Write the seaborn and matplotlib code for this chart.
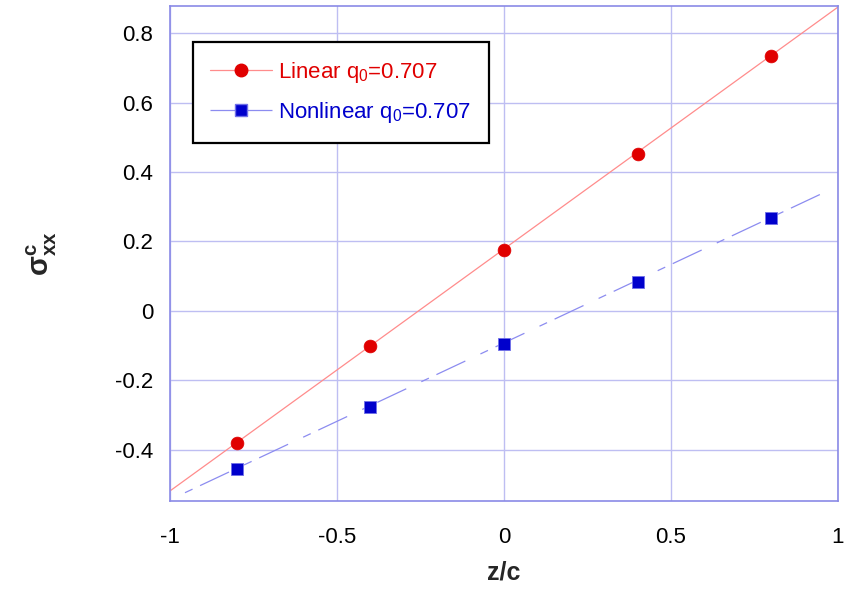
import numpy as np
import pandas as pd
import matplotlib
matplotlib.use("Agg")
import matplotlib.pyplot as plt
from matplotlib.lines import Line2D
import seaborn as sns

# ---- data ----
z = [-0.8, -0.4, 0.0, 0.4, 0.8]
linear_vals = [-0.381, -0.102, 0.174, 0.453, 0.735]
nonlinear_vals = [-0.456, -0.278, -0.096, 0.082, 0.268]
# trend lines (endpoints)
lin_fit_x = [-1.0, 1.0]
lin_fit_y = [-0.519, 0.875]
nl_fit_x = [-0.955, 0.957]
nl_fit_y = [-0.524, 0.340]
labels = ["Linear q$_0$=0.707", "Nonlinear q$_0$=0.707"]
xticks = [-1, -0.5, 0, 0.5, 1]
xticklabels = ["-1", "-0.5", "0", "0.5", "1"]
yticks = [-0.4, -0.2, 0, 0.2, 0.4, 0.6, 0.8]
yticklabels = ["-0.4", "-0.2", "0", "0.2", "0.4", "0.6", "0.8"]

sns.set_style("white")
plt.rcParams['font.family'] = ['Liberation Sans', 'DejaVu Sans']
plt.rcParams['mathtext.fontset'] = 'custom'
plt.rcParams['mathtext.rm'] = 'Liberation Sans'
plt.rcParams['mathtext.it'] = 'Liberation Sans'
plt.rcParams['mathtext.bf'] = 'Liberation Sans:bold'
plt.rcParams['lines.scale_dashes'] = False

RED_LINE = "#FF8C8C"
RED = "#E00000"
BLUE_LINE = "#8C8CF0"
BLUE = "#0000CC"
GRID = "#BEBEF2"
SPINE = "#8A8AE6"
NL_DASH = (0, (6, 6, 23, 12))

fig = plt.figure(figsize=(8.46, 5.90), dpi=100)
ax = fig.add_axes([0.2009, 0.1508, 0.7896, 0.8390])

df_pts = pd.DataFrame({"z": z, "lin": linear_vals, "nl": nonlinear_vals})
df_lf = pd.DataFrame({"x": lin_fit_x, "y": lin_fit_y})
df_nf = pd.DataFrame({"x": nl_fit_x, "y": nl_fit_y})

sns.lineplot(data=df_lf, x="x", y="y", ax=ax, color=RED_LINE, linewidth=0.9,
             estimator=None, sort=False)
sns.lineplot(data=df_nf, x="x", y="y", ax=ax, color=BLUE_LINE, linewidth=0.9,
             estimator=None, sort=False, linestyle=NL_DASH)
sns.scatterplot(data=df_pts, x="z", y="lin", ax=ax, marker="o", s=85,
                color=RED, edgecolor=RED, linewidth=0.5, zorder=5)
sns.scatterplot(data=df_pts, x="z", y="nl", ax=ax, marker="s", s=85,
                color=BLUE, edgecolor="#7070E8", linewidth=0.6, zorder=5)

ax.set_xlim(-1, 1)
ax.set_ylim(-0.548, 0.878)
ax.set_xticks(xticks)
ax.set_xticklabels(xticklabels)
ax.set_yticks(yticks)
ax.set_yticklabels(yticklabels)
ax.tick_params(axis='both', length=0, labelsize=16, colors='black')
ax.tick_params(axis='x', pad=19)
ax.tick_params(axis='y', pad=12)
ax.grid(True, color=GRID, linewidth=1.0)
ax.set_axisbelow(True)
for sp in ax.spines.values():
    sp.set_color(SPINE)
    sp.set_linewidth(1.2)

ax.set_xlabel("z/c", fontsize=18, fontweight='bold', labelpad=9)
ax.set_ylabel(r"$\mathbf{\sigma^{c}_{xx}}$", fontsize=21, labelpad=40)

handles = [
    Line2D([0], [0], color=RED_LINE, linewidth=0.9, marker="o", markersize=9,
           markerfacecolor=RED, markeredgecolor=RED),
    Line2D([0], [0], color=BLUE_LINE, linewidth=0.9, marker="s", markersize=9,
           markerfacecolor=BLUE, markeredgecolor="#7070E8",
           linestyle=(0, (20, 6, 20, 6))),
]
leg = ax.legend(handles, labels, loc="upper left", bbox_to_anchor=(0.034, 0.927),
                borderaxespad=0, fontsize=16, handlelength=2.75, handletextpad=0.3,
                frameon=True, fancybox=False, edgecolor="black", framealpha=1,
                borderpad=0.8, labelspacing=0.68)
leg.get_frame().set_linewidth(1.6)
for t, c in zip(leg.get_texts(), [RED, BLUE]):
    t.set_color(c)

fig.savefig("out.png", dpi=100)
